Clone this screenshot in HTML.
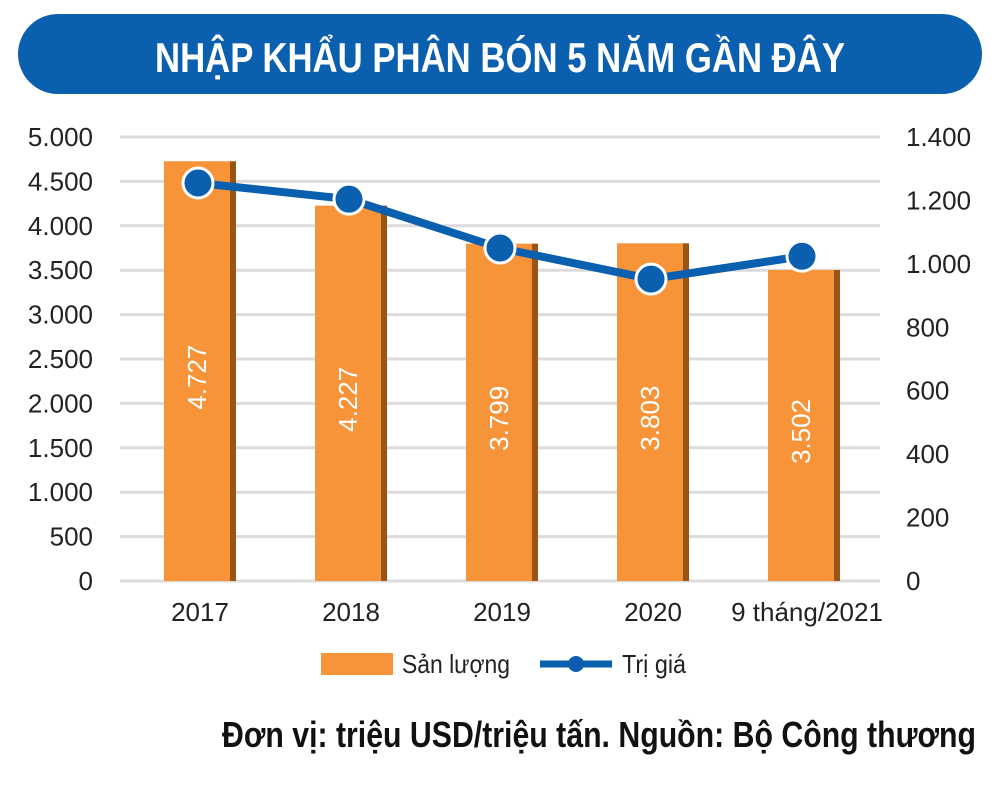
<!DOCTYPE html>
<html><head><meta charset="utf-8"><style>
body{margin:0;background:#fff;width:1000px;height:796px;overflow:hidden;font-family:"Liberation Sans Narrow","Liberation Sans",sans-serif}
svg text{font-family:"Liberation Sans Narrow","Liberation Sans",sans-serif}
</style></head><body>
<svg width="1000" height="796">
<rect x="18" y="14" width="964" height="80" rx="40" fill="#0a5fae"/>
<text x="155" y="72" textLength="690" lengthAdjust="spacingAndGlyphs" font-size="42" font-weight="bold" fill="#fff">NHẬP KHẨU PHÂN BÓN 5 NĂM GẦN ĐÂY</text>
<g id="grid"></g><g id="bars"></g><g id="line"></g><g id="axes"></g>
<rect x="321" y="653" width="72" height="22" fill="#f7943a"/>
<text x="402" y="673" textLength="108" lengthAdjust="spacingAndGlyphs" font-size="26" fill="#222">Sản lượng</text>
<line x1="540" y1="664" x2="612" y2="664" stroke="#0a5fae" stroke-width="7"/>
<circle cx="576" cy="664" r="8" fill="#0a5fae"/>
<text x="622" y="673" textLength="64" lengthAdjust="spacingAndGlyphs" font-size="26" fill="#222">Trị giá</text>
<text x="222" y="747" textLength="754" lengthAdjust="spacingAndGlyphs" font-size="36" font-weight="bold" fill="#111">Đơn vị: triệu USD/triệu tấn. Nguồn: Bộ Công thương</text>
</svg>
<script>
const categories=["2017","2018","2019","2020","9 tháng/2021"];
const volumes=[4727,4227,3799,3803,3502];
const volumeLabels=["4.727","4.227","3.799","3.803","3.502"];
const values=[1255,1204,1050,952,1024];
const leftTicks=[0,500,1000,1500,2000,2500,3000,3500,4000,4500,5000];
const leftTickLabels=["0","500","1.000","1.500","2.000","2.500","3.000","3.500","4.000","4.500","5.000"];
const rightTicks=[0,200,400,600,800,1000,1200,1400];
const rightTickLabels=["0","200","400","600","800","1.000","1.200","1.400"];
const NS="http://www.w3.org/2000/svg";
const y0=581,yT=137;
const yL=v=>y0-(v/5000)*(y0-yT);
const yR=v=>y0-(v/1400)*(y0-yT);
const xC=i=>200+i*151;
function mk(t,a,p){const e=document.createElementNS(NS,t);for(const k in a)e.setAttribute(k,a[k]);p.appendChild(e);return e;}
const grid=document.getElementById('grid'),bars=document.getElementById('bars'),line=document.getElementById('line'),axes=document.getElementById('axes');
leftTicks.forEach((v,i)=>{
 const l=mk('line',{x1:120,x2:880,y1:yL(v),y2:yL(v),stroke:'#dcdcdc','stroke-width':3},grid);
 
 
 const t=mk('text',{x:93,y:yL(v)+9,'text-anchor':'end','font-size':26,fill:'#222'},axes);t.textContent=leftTickLabels[i];
 
 
});
rightTicks.forEach((v,i)=>{
 const t=mk('text',{x:906,y:yR(v)+9,'font-size':26,fill:'#222'},axes);t.textContent=rightTickLabels[i];
 
 
});
volumes.forEach((v,i)=>{
 const x=xC(i)-36,y=yL(v),h=y0-y;
 const b=mk('rect',{x:x,y:y,width:67,height:h,fill:'#f7943a'},bars);
 
 
 const s=mk('rect',{x:x+66,y:y,width:6,height:h,fill:'#9a5413'},bars);
 
 
 const cx=x+33,cy=(y+y0)/2+15;
 const t=mk('text',{x:cx,y:cy,'text-anchor':'middle','font-size':26,fill:'#fff',transform:`rotate(-90 ${cx} ${cy-9})`},bars);t.textContent=volumeLabels[i];
 
 
 const c=mk('text',{x:xC(i)+(i==4?3:0),y:621,'text-anchor':'middle','font-size':26,fill:'#222'},axes);c.textContent=categories[i];
 
 
});
const pts=values.map((v,i)=>(xC(i)-2)+','+yR(v)).join(' ');
const pl=mk('polyline',{points:pts,fill:'none',stroke:'#0a5fae','stroke-width':8},line);


values.forEach((v,i)=>{
 const c=mk('circle',{cx:xC(i)-2,cy:yR(v),r:15,fill:'#0a5fae',stroke:'#fff','stroke-width':3},line);
 
 
});
</script>
</body></html>
